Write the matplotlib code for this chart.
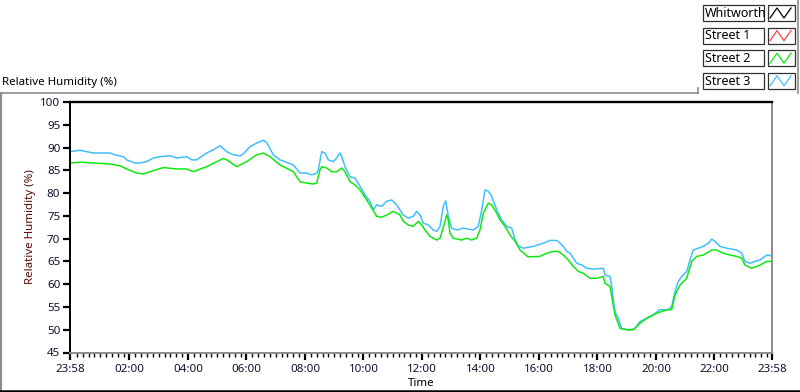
import numpy as np
import matplotlib.pyplot as plt
from matplotlib.patches import Rectangle

plt.rcParams['font.family'] = ['Noto Sans', 'DejaVu Sans']

# time axis: hours elapsed since 23:58, values: relative humidity (%)
street3_t = [0.0, 0.342, 0.571, 0.797, 1.368, 1.538, 1.822, 1.938, 2.222, 2.393,
             2.622, 2.848, 3.077, 3.419, 3.648, 3.990, 4.161, 4.332, 4.673, 4.899,
             5.128, 5.357, 5.583, 5.812, 5.925, 6.154, 6.383, 6.609, 6.725, 6.951,
             7.179, 7.634, 7.863, 8.092, 8.263, 8.434, 8.489, 8.605, 8.718, 8.831,
             9.002, 9.118, 9.231, 9.289, 9.402, 9.573, 9.744, 9.915, 10.085, 10.256,
             10.369, 10.485, 10.656, 10.827, 10.998, 11.169, 11.282, 11.395, 11.566, 11.737,
             11.853, 11.966, 12.079, 12.250, 12.421, 12.537, 12.650, 12.762, 12.844, 12.933,
             13.049, 13.220, 13.446, 13.788, 13.959, 14.075, 14.188, 14.301, 14.417, 14.588,
             14.759, 14.930, 15.101, 15.272, 15.497, 15.839, 16.181, 16.410, 16.639, 16.752,
             16.865, 16.981, 17.094, 17.207, 17.323, 17.494, 17.665, 17.891, 18.233, 18.291,
             18.462, 18.520, 18.574, 18.632, 18.745, 18.862, 19.145, 19.316, 19.487, 19.716,
             19.942, 20.171, 20.455, 20.571, 20.684, 20.797, 20.913, 21.084, 21.197, 21.310,
             21.481, 21.652, 21.823, 21.939, 22.051, 22.222, 22.451, 22.793, 22.964, 23.077,
             23.248, 23.419, 23.590, 23.819, 24.0]
street3_rh = [89.1, 89.4, 89.1, 88.8, 88.8, 88.4, 88.0, 87.3, 86.6, 86.6,
              86.9, 87.7, 88.0, 88.2, 87.7, 88.0, 87.3, 87.3, 88.8, 89.5,
              90.4, 89.1, 88.4, 88.2, 88.6, 90.2, 91.0, 91.6, 91.1, 88.4,
              87.3, 86.2, 84.4, 84.4, 84.0, 84.4, 85.1, 89.1, 88.8, 87.3,
              86.9, 87.7, 88.8, 88.0, 85.8, 83.6, 83.3, 81.5, 79.6, 78.2,
              76.3, 77.4, 77.1, 78.2, 78.5, 77.4, 76.3, 75.2, 74.5, 74.9,
              76.0, 75.2, 73.4, 73.0, 71.9, 71.6, 72.7, 77.1, 78.3, 74.9,
              72.3, 71.9, 72.3, 71.9, 72.7, 76.3, 80.7, 80.4, 79.3, 76.3,
              74.1, 72.7, 72.3, 68.6, 67.9, 68.3, 69.0, 69.6, 69.6, 69.0,
              68.3, 67.2, 66.8, 65.7, 64.6, 64.2, 63.5, 63.3, 63.5, 62.0,
              61.7, 59.5, 56.5, 54.0, 52.5, 50.3, 49.9, 50.3, 51.8, 52.5,
              53.3, 54.4, 54.4, 55.1, 58.4, 60.6, 61.7, 62.8, 65.3, 67.5,
              67.9, 68.3, 69.0, 69.9, 69.4, 68.3, 67.9, 67.5, 66.8, 65.0,
              64.6, 65.0, 65.3, 66.4, 66.2]

street2_t = [0.0, 0.342, 0.797, 1.368, 1.709, 1.938, 2.280, 2.506, 2.735, 3.190,
             3.648, 3.990, 4.215, 4.673, 5.241, 5.357, 5.699, 6.041, 6.383, 6.609,
             6.838, 7.179, 7.634, 7.863, 8.092, 8.318, 8.434, 8.547, 8.605, 8.776,
             8.947, 9.118, 9.289, 9.402, 9.573, 9.744, 9.915, 10.144, 10.315, 10.485,
             10.656, 10.827, 11.053, 11.282, 11.395, 11.566, 11.737, 11.908, 12.024, 12.137,
             12.308, 12.537, 12.650, 12.786, 12.879, 12.933, 12.991, 13.104, 13.390, 13.562,
             13.733, 13.904, 14.017, 14.130, 14.301, 14.417, 14.588, 14.701, 14.872, 15.043,
             15.272, 15.385, 15.660, 16.068, 16.297, 16.523, 16.694, 16.865, 17.036, 17.207,
             17.378, 17.549, 17.778, 18.007, 18.233, 18.291, 18.462, 18.520, 18.632, 18.803,
             19.032, 19.259, 19.487, 19.716, 20.058, 20.400, 20.571, 20.684, 20.855, 21.084,
             21.255, 21.426, 21.652, 21.939, 22.109, 22.335, 22.564, 22.793, 22.964, 23.077,
             23.305, 23.590, 23.819, 24.0]
street2_rh = [86.6, 86.8, 86.6, 86.4, 86.0, 85.3, 84.4, 84.2, 84.7, 85.6,
              85.3, 85.3, 84.7, 85.8, 87.6, 87.3, 85.8, 86.9, 88.4, 88.8,
              88.0, 86.2, 84.7, 82.5, 82.2, 82.0, 82.2, 85.1, 85.8, 85.5,
              84.7, 84.7, 85.5, 84.7, 82.5, 81.8, 80.7, 78.5, 76.7, 74.9,
              74.7, 75.2, 76.0, 75.2, 73.8, 73.0, 72.7, 73.8, 73.0, 71.9,
              70.5, 69.7, 70.1, 73.0, 75.2, 74.1, 71.2, 70.1, 69.7, 70.1,
              69.7, 70.1, 71.9, 75.6, 77.8, 77.4, 75.6, 74.1, 72.7, 70.8,
              69.0, 67.5, 66.0, 66.1, 66.8, 67.2, 67.2, 66.4, 65.3, 63.9,
              62.8, 62.4, 61.3, 61.3, 61.7, 60.2, 59.5, 57.3, 53.3, 50.3,
              50.0, 50.0, 51.4, 52.5, 53.6, 54.4, 54.4, 57.6, 59.8, 61.3,
              65.0, 66.1, 66.4, 67.5, 67.5, 66.8, 66.4, 66.1, 65.7, 64.2,
              63.5, 64.2, 65.0, 65.0]

legend_names = ['Whitworth', 'Street 1', 'Street 2', 'Street 3']
legend_colors = ['#000000', '#ff4040', '#10e810', '#40bfff']

y_ticks = list(range(45, 101, 5))
start_min = 23 * 60 + 58  # 23:58

fs = 8.3

fig = plt.figure(figsize=(8, 3.92), dpi=100)

# background layer in pixel units: panel frame + legend
bg = fig.add_axes([0, 0, 1, 1])
bg.set_xlim(0, 800)
bg.set_ylim(392, 0)
bg.axis('off')
bg.plot([0, 698], [92.5, 92.5], color='#8c8c8c', lw=1.2)
bg.plot([698, 698], [88, 92.5], color='#8c8c8c', lw=1.2)
bg.plot([797.5, 797.5], [0, 92.5], color='#8c8c8c', lw=1.2)
bg.plot([0.8, 0.8], [92.5, 390], color='#8c8c8c', lw=1.5)
bg.plot([0, 800], [390.5, 390.5], color='black', lw=1.8)

for i, (name, col) in enumerate(zip(legend_names, legend_colors)):
    top = 5 + i * 22.6
    bg.add_patch(Rectangle((702.5, top), 61, 16, facecolor='white',
                           edgecolor='#303030', lw=0.9))
    bg.text(705, top + 8.3, name, fontsize=9, va='center', ha='left', color='black')
    bg.add_patch(Rectangle((767.5, top), 27, 16, facecolor='white',
                           edgecolor='#303030', lw=0.9))
    bg.plot([770, 777, 784, 791], [top + 13, top + 3, top + 13, top + 3],
            color=col, lw=0.9)

fig.text(2 / 800, 1 - 83 / 392, 'Relative Humidity (%)', fontsize=fs,
         ha='left', va='center', color='black')
fig.text(31 / 800, 1 - 227 / 392, 'Relative Humidity (%)', fontsize=fs,
         rotation=90, ha='center', va='center', color='#5a0a0a')
fig.text(421 / 800, 1 - 384 / 392, 'Time', fontsize=fs,
         ha='center', va='center', color='black')

# plot area
ax = fig.add_axes([70 / 800, 1 - 352.5 / 392, 702 / 800, 250.5 / 392])
ax.plot(street3_t, street3_rh, color=legend_colors[3], lw=1.1)
ax.plot(street2_t, street2_rh, color=legend_colors[2], lw=1.1)

ax.set_xlim(0, 24)
ax.set_ylim(45, 100)

major_min = [0] + [122 + 120 * k for k in range(11)] + [1440]
labels = []
for m in major_min:
    c = (start_min + m) % 1440
    labels.append('%02d:%02d' % (c // 60, c % 60))
minor_min = [m for m in range(14, 1440, 12) if m not in major_min]
ax.set_xticks([m / 60 for m in major_min])
ax.set_xticklabels(labels)
ax.set_xticks([m / 60 for m in minor_min], minor=True)
ax.set_yticks(y_ticks)

ax.tick_params(axis='both', which='major', direction='out', length=5, width=1.6,
               color='black', labelsize=fs, labelcolor='#101030', pad=2)
ax.tick_params(axis='x', which='minor', direction='out', length=3, width=1,
               color='black')
ax.tick_params(axis='x', which='major', pad=3)

ax.spines['top'].set_color('black')
ax.spines['top'].set_linewidth(1.7)
ax.spines['left'].set_color('black')
ax.spines['left'].set_linewidth(1.4)
ax.spines['bottom'].set_color('#8c8c8c')
ax.spines['bottom'].set_linewidth(1.4)
ax.spines['right'].set_color('#8c8c8c')
ax.spines['right'].set_linewidth(1.4)

fig.savefig('out.png', dpi=100)
